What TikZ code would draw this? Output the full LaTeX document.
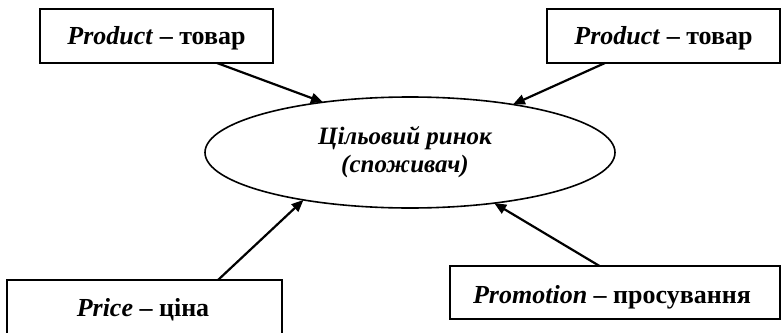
\documentclass[tikz,border=0pt]{standalone}
\usepackage{fontspec}
\setmainfont{Liberation Serif}
\usetikzlibrary{shapes.geometric,arrows.meta}
\tikzset{
  boxnode/.style={draw=black, line width=1.9pt, rectangle, inner sep=0pt, outer sep=0pt},
  txt/.style={inner sep=0pt, anchor=base, font=\fontsize{26}{30}\selectfont\bfseries},
  conn/.style={line width=2.2pt, -{Triangle[length=12pt,width=10pt]}},
}
\begin{document}
\begin{tikzpicture}[x=1pt,y=-1pt]
\useasboundingbox (0,0) rectangle (781,332);
% boxes
\node[boxnode, minimum width=233pt, minimum height=54pt] (b1) at (156.5,36) {};
\node[txt] (t1) at (156.5,44) {\textit{Product} – товар};
\node[boxnode, minimum width=233pt, minimum height=54pt] (b2) at (663.5,36) {};
\node[txt] (t2) at (663.5,44) {\textit{Product} – товар};
\node[inner sep=0pt, outer sep=0pt, minimum width=275pt, minimum height=60pt] (b3) at (144.5,310) {};
\draw[line width=1.9pt] (b3.south west) -- (b3.north west) -- (b3.north east) -- (b3.south east);
\node[txt] (t3) at (143,316.5) {\textit{Price} – ціна};
\node[boxnode, minimum width=330pt, minimum height=53pt] (b4) at (615,292.5) {};
\node[txt] (t4) at (612,303) {\textit{Promotion} – просування};
% ellipse
\node[draw=black, line width=1.6pt, ellipse, minimum width=410pt, minimum height=111pt, inner sep=0pt, outer sep=0pt] (ell) at (410,152.5) {};
\node[inner sep=0pt, align=center, font=\fontsize{25}{28}\selectfont\bfseries\itshape] (et) at (405,152) {Цільовий ринок\\(споживач)};
% connectors
\draw[conn] ([xshift=60.5pt]b1.south) -- (ell.150);
\draw[conn] ([xshift=-58.5pt]b2.south) -- (ell.25);
\draw[conn] ([xshift=73.5pt]b3.north) -- (ell.204);
\draw[conn] ([xshift=-15.5pt]b4.north) -- (ell.329);
\end{tikzpicture}
\end{document}
